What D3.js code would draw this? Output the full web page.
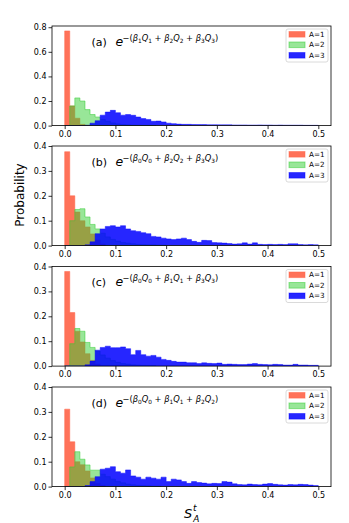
<!DOCTYPE html>
<html>
<head>
<meta charset="utf-8">
<script src="https://cdn.jsdelivr.net/npm/d3@7"></script>
<style>
  body { margin: 0; background: #fff; }
  svg { display: block; font-family: "DejaVu Sans", sans-serif; }
</style>
</head>
<body>
<div id="chart"></div>
<script>
// bin width of every histogram, bins start at 0
const binWidth = 0.01;

// probability per bin, one array per panel and series (trailing bins are 0)
const redA = [0.77, 0.16, 0.06, 0.01];
const greenA = [0, 0.16, 0.225, 0.2, 0.13, 0.09, 0.07, 0.05, 0.035, 0.022, 0.014, 0.009, 0.006, 0.004, 0.003, 0.002, 0.002, 0.001];
const blueA = [0, 0, 0, 0, 0.003, 0.02, 0.04, 0.085, 0.11, 0.124, 0.105, 0.085, 0.09, 0.084, 0.07, 0.057, 0.05, 0.035, 0.037, 0.03,
  0.02, 0.016, 0.012, 0.01, 0.01, 0.009, 0.008, 0.008, 0.007, 0.007, 0.006, 0.006, 0.006, 0.005, 0.005, 0.005, 0.004, 0.004, 0.005, 0.004,
  0.004, 0.003, 0.004, 0.003, 0.003, 0.003, 0.003, 0.002, 0.002, 0.002];

const redB = [0.377, 0.2, 0.135, 0.1, 0.075, 0.047, 0.022, 0.006];
const greenB = [0, 0.1, 0.145, 0.148, 0.115, 0.085, 0.067, 0.05, 0.035, 0.025, 0.018, 0.012, 0.01, 0.007, 0.005, 0.004, 0.003, 0.003, 0.002, 0.002];
const blueB = [0, 0, 0, 0, 0.003, 0.015, 0.048, 0.067, 0.077, 0.08, 0.075, 0.08, 0.067, 0.06, 0.057, 0.052, 0.048, 0.037, 0.035, 0.03,
  0.027, 0.024, 0.027, 0.03, 0.024, 0.017, 0.013, 0.021, 0.02, 0.012, 0.011, 0.01, 0.008, 0.006, 0.007, 0.011, 0.006, 0.011, 0.005, 0.004,
  0.005, 0.004, 0.005, 0.004, 0.007, 0.007, 0.004, 0.003, 0.004, 0.003];

const redC = [0.38, 0.215, 0.14, 0.097, 0.05, 0.023, 0.008];
const greenC = [0, 0.09, 0.151, 0.14, 0.095, 0.075, 0.06, 0.045, 0.032, 0.022, 0.015, 0.01, 0.008, 0.005, 0.004, 0.003, 0.002, 0.002];
const blueC = [0, 0, 0, 0, 0.005, 0.02, 0.064, 0.075, 0.08, 0.074, 0.074, 0.077, 0.07, 0.046, 0.063, 0.046, 0.04, 0.043, 0.036, 0.027,
  0.023, 0.019, 0.016, 0.016, 0.0135, 0.0135, 0.01, 0.013, 0.011, 0.01, 0.012, 0.007, 0.008, 0.007, 0.006, 0.006, 0.008, 0.01, 0.007, 0.006,
  0.005, 0.007, 0.006, 0.004, 0.004, 0.007, 0.004, 0.004, 0.003, 0.003];

const redD = [0.311, 0.18, 0.1, 0.088, 0.063, 0.035, 0.013, 0.004];
const greenD = [0, 0.079, 0.14, 0.11, 0.087, 0.066, 0.066, 0.05, 0.04, 0.03, 0.02, 0.015, 0.01, 0.007, 0.005, 0.004, 0.003, 0.002, 0.002];
const blueD = [0, 0, 0, 0, 0.004, 0.02, 0.04, 0.07, 0.074, 0.08, 0.06, 0.054, 0.067, 0.043, 0.038, 0.03, 0.038, 0.034, 0.03, 0.038,
  0.02, 0.03, 0.027, 0.02, 0.013, 0.02, 0.016, 0.014, 0.011, 0.013, 0.012, 0.02, 0.018, 0.011, 0.008, 0.007, 0.01, 0.008, 0.007, 0.01,
  0.012, 0.009, 0.007, 0.006, 0.008, 0.007, 0.009, 0.008, 0.006, 0.004];

const panelLabels = ["(a)", "(b)", "(c)", "(d)"];
const exponentTerms = [["1", "2", "3"], ["0", "2", "3"], ["0", "1", "3"], ["0", "1", "2"]];
const legendLabels = ["A=1", "A=2", "A=3"];
const xTicks = [0, 0.1, 0.2, 0.3, 0.4, 0.5];
const yTicksA = [0, 0.2, 0.4, 0.6, 0.8];
const yTicksRest = [0, 0.1, 0.2, 0.3, 0.4];

const panels = [
  {series: [redA, greenA, blueA], yMax: 0.81, yTicks: yTicksA},
  {series: [redB, greenB, blueB], yMax: 0.4, yTicks: yTicksRest},
  {series: [redC, greenC, blueC], yMax: 0.4, yTicks: yTicksRest},
  {series: [redD, greenD, blueD], yMax: 0.4, yTicks: yTicksRest}
];

// fill, fill opacity, stroke opacity for A=1, A=2, A=3
const styles = [
  {color: "#ff6347", fo: 0.9, so: 0.5},
  {color: "#32cd32", fo: 0.5, so: 0.5},
  {color: "#0000ff", fo: 0.85, so: 0.45}
];

const W = 349, H = 523;
const left = 52, right = 331;
const tops = [26, 146, 266.5, 387];
const ph = 99.6;

const svg = d3.select("#chart").append("svg")
  .attr("width", W).attr("height", H);
svg.append("rect").attr("width", W).attr("height", H).attr("fill", "#fff");

const x = d3.scaleLinear().domain([-0.025, 0.525]).range([left, right]);

panels.forEach((p, pi) => {
  const top = tops[pi];
  const y = d3.scaleLinear().domain([0, p.yMax]).range([top + ph, top]);
  const g = svg.append("g");

  g.append("defs").append("clipPath").attr("id", "clip" + pi)
    .append("rect").attr("x", left).attr("y", top).attr("width", right - left).attr("height", ph);

  const area = d3.area()
    .x(d => x(d[0]))
    .y0(y(0))
    .y1(d => y(d[1]))
    .curve(d3.curveStepAfter);

  p.series.forEach((vals, si) => {
    const pts = vals.map((v, i) => [i * binWidth, v]);
    pts.push([vals.length * binWidth, vals[vals.length - 1]]);
    g.append("path")
      .attr("clip-path", `url(#clip${pi})`)
      .attr("d", area(pts))
      .attr("fill", styles[si].color)
      .attr("fill-opacity", styles[si].fo)
      .attr("stroke", styles[si].color)
      .attr("stroke-opacity", styles[si].so)
      .attr("stroke-width", 1);
  });

  // axes
  const xa = g.append("g").attr("transform", `translate(0,${top + ph})`)
    .call(d3.axisBottom(x).tickValues(xTicks).tickFormat(d3.format(".1f")).tickSize(3.5).tickPadding(2));
  const ya = g.append("g").attr("transform", `translate(${left},0)`)
    .call(d3.axisLeft(y).tickValues(p.yTicks).tickFormat(d3.format(".1f")).tickSize(3.5).tickPadding(2));
  [xa, ya].forEach(a => {
    a.select(".domain").remove();
    a.selectAll("line").attr("stroke", "#000").attr("stroke-width", 0.8);
    a.selectAll("text").attr("font-family", "DejaVu Sans").attr("font-size", 8).attr("fill", "#000");
  });

  g.append("rect")
    .attr("x", left).attr("y", top).attr("width", right - left).attr("height", ph)
    .attr("fill", "none").attr("stroke", "#000").attr("stroke-width", 0.8);

  // title with math exponent
  const base = top + 19.5;
  g.append("text").attr("x", 91.5).attr("y", base)
    .attr("font-size", 11).attr("fill", "#000").text(panelLabels[pi]);
  g.append("text").attr("x", 115.5).attr("y", base)
    .attr("font-size", 12.5).attr("font-style", "italic").attr("fill", "#000").text("e");
  const sup = g.append("text").attr("x", 122.5).attr("y", base - 5)
    .attr("font-size", 8.3).attr("fill", "#000");
  sup.append("tspan").text("−(");
  exponentTerms[pi].forEach((k, i) => {
    if (i > 0) sup.append("tspan").attr("dy", -2).text(" + ");
    sup.append("tspan").attr("font-style", "italic").text("β");
    sup.append("tspan").attr("font-size", 5.8).attr("dy", 2).text(k);
    sup.append("tspan").attr("font-style", "italic").attr("dy", -2).text("Q");
    sup.append("tspan").attr("font-size", 5.8).attr("dy", 2).text(k);
  });
  sup.append("tspan").attr("dy", -2).text(")");

  // legend
  const lg = g.append("g").attr("transform", `translate(286,${top + 3})`);
  lg.append("rect").attr("width", 42).attr("height", 33).attr("rx", 2)
    .attr("fill", "#fff").attr("fill-opacity", 0.8).attr("stroke", "#d0d0d0").attr("stroke-width", 0.8);
  legendLabels.forEach((lab, i) => {
    const cy = 5.3 + i * 10.5;
    lg.append("rect").attr("x", 3).attr("y", cy - 2.8).attr("width", 16).attr("height", 5.6)
      .attr("fill", styles[i].color).attr("fill-opacity", styles[i].fo)
      .attr("stroke", styles[i].color).attr("stroke-opacity", styles[i].so).attr("stroke-width", 1);
    lg.append("text").attr("x", 23).attr("y", cy + 2.6)
      .attr("font-size", 7.2).attr("fill", "#000").text(lab);
  });
});

// axis labels
svg.append("text")
  .attr("transform", "translate(24,195) rotate(-90)")
  .attr("text-anchor", "middle").attr("font-size", 12).attr("fill", "#000")
  .text("Probability");

const xl = svg.append("text").attr("x", 184).attr("y", 518).attr("font-size", 13).attr("fill", "#000");
xl.append("tspan").attr("font-style", "italic").text("S");
xl.append("tspan").attr("font-style", "italic").attr("font-size", 9).attr("dx", 1).attr("dy", 4).text("A");
xl.append("tspan").attr("font-style", "italic").attr("font-size", 9).attr("dx", -6.5).attr("dy", -11).text("t");
</script>
</body>
</html>
